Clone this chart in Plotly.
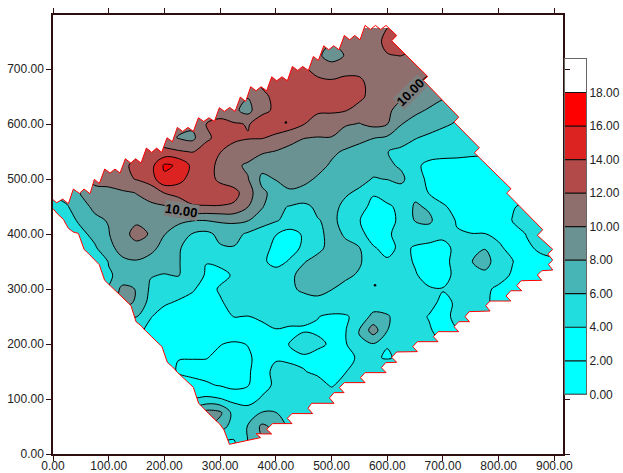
import plotly.graph_objects as go

x_nodes = [25 * i for i in range(38)]
level_edges = [0, 2, 4, 6, 8, 10, 12, 14, 16, 18, 20]
band_colors = ["#00FFFF", "#00FFFF", "#22DDDD", "#47B5B5", "#6B9292", "#8F6E6E", "#B34A4A", "#DD2222", "#FF0000", "rgba(255,255,255,0)"]

# grid: (y, index of first column, values); blank nodes lie outside the survey
z_rows = [
 (775,22,[10.5,11,12,13]),
 (750,21,[10.5,10.5,11.3,12.5,13,12.5]),
 (725,18,[11,10.3,9.3,10.1,10.8,11.2,11.9,12.05,11,10.5]),
 (700,17,[12.5,12.2,11.5,10.8,11.3,11.5,11,10.9,10.9,10.6,10.3]),
 (675,15,[12.2,12.8,13,13,12.4,12.4,12.7,12.4,11.3,11,10.8,10.2,9.5,9]),
 (650,14,[10.1,11.7,12.3,13,13,13,13,13,12.5,11.2,10.8,10.2,9.5,8.8,8.2,7.8]),
 (625,12,[10.8,10.4,9.3,11.7,12.2,13,13,12.2,12.2,12.1,11.2,10.8,10.3,9.4,8.4,7.8,7.2,6.5,6]),
 (600,10,[10.5,12,12.8,12.2,11.9,12.6,13,13,12.05,11.4,11.2,10.2,9.9,10.5,10.05,8.05,7.3,6.9,6.3,5.8,5.3]),
 (575,8,[10.8,9.9,9.5,11.7,12.5,12.3,12.1,12.1,11.6,10.7,10.05,9.9,9.9,8.9,8.3,8.05,7.7,7.2,6.1,5.6,5.2,4.9,4.5,4.3]),
 (550,6,[11.5,12.5,12.5,12.2,11.9,12.7,12.05,11.4,11,10.3,9.9,9.4,9.1,8.9,8.3,7.8,7.6,7,6.05,5.4,5.1,4.9,4.7,4.6,4.4,4.2,4.1]),
 (525,4,[10.5,11.5,12.6,13.2,16.3,15.8,13.5,12.8,11.5,10.4,9.7,8.6,8.9,9.2,9,8.5,7.8,7.2,7,6.6,6.4,5.7,4.4,3.5,3.3,3.3,3.3,3.5,3.5]),
 (500,3,[10.6,10.8,11.5,12.1,13,15.6,14.6,13.3,12.8,11.6,11,10.1,7.6,8.05,8.5,8.4,7.8,7.1,6.6,6.5,5.9,6.05,6.5,4.6,3.7,3.2,3.2,3.2,3.2,3.3,3.5]),
 (475,1,[7,8.1,9.3,9.4,9.7,10.05,10.6,12.05,12.9,13,13,13,12.6,11,8.3,7.5,7.8,7.5,7,6.6,6.2,5.7,4.2,4.6,5,5.4,3.9,3.3,3.3,3.3,3.3,3.3,3.3,3.3]),
 (450,0,[4.5,5.8,7.5,8.3,9,9.3,9.5,9.7,9.8,10.1,11.8,11.9,11.9,11.7,10.05,8.2,6.4,5.9,5.5,6.4,6.5,5.6,4.8,3.4,3.8,4.3,6.3,5.7,4.2,3.5,3.5,3.5,3.5,3.9,4.3]),
 (425,0,[4.1,5,6.5,7.7,8.1,8.7,9.8,9.8,8.7,8.3,8.1,8.05,8.3,8.4,8.1,6.9,6.2,5.3,5,5.9,6.4,5.4,4.05,3.2,3.2,4.5,6.1,6.4,4.7,3.9,3.3,3.3,3.4,4.05,4.5,4.5]),
 (400,1,[4.5,5.4,6.7,7.9,9.6,10.4,9.9,8.05,7.3,5.9,5.5,6.5,6.6,5.7,5,4.05,3.3,4.2,5.5,6.6,5.8,4.7,3,3.7,4.7,5,4.9,4.4,4.1,4.05,4.05,3.6,3.4,4.05,4.3]),
 (375,2,[4.1,5.7,7.7,8.4,9.6,8.6,7.3,6.2,5.2,5.2,5.8,5.9,5.3,4.6,3.6,3.3,4.3,5.6,6.5,6.4,6.05,4.2,3.3,4.5,3.8,3.5,3.5,4.4,4.9,5.9,4.3,3.4,3.8,4.2,4.5]),
 (350,3,[4.5,6.1,7.8,7.8,7.3,6.8,6.1,5.3,4.05,4.4,4.7,5,4.4,3.3,4.2,5.9,6.5,7,6.7,6.2,5,4.3,4.8,3.8,3.2,3.2,4.9,5.9,6.8,5,4.05,3.5,3.7,3.8]),
 (325,3,[4.5,5.8,6.5,6.9,6.1,5.9,6.1,5.1,3.8,3.5,4.2,4.8,5,5,5.7,6.5,7.2,7.2,6.3,5.8,5,4.7,4.5,4.2,3.2,3.2,4.6,5.5,5.5,4.6,3.8,3.5,3.8]),
 (300,3,[5,6.05,8.6,7.9,5.7,5,4.7,4.2,3.3,4.2,4.7,5,5,5.3,5.8,6.2,6.5,6.05,5.5,5,4.8,4.6,4.5,4.4,4.2,4.1,4.8,4.9,4.3,3.7,3.5,3.5]),
 (275,4,[6.5,8.5,7.8,5.2,4.2,3.8,3.4,3.1,3.8,4.6,5,5,5.2,5.5,5.5,5.5,5.3,5.2,5,4.8,4.5,4.4,4.5,4.5,3.6,4.2,4.5,4.3,3.5]),
 (250,5,[6.05,6.05,4.1,3.3,3.1,3,3,3.1,4.05,3.95,4.3,4.8,4.7,4.2,4.05,3.7,3.8,4.6,6.6,6.3,4.7,4.6,3.9,3.3,4.6,4.5]),
 (225,6,[4.5,3.5,3,3,3,3,2.9,3,3.2,3.5,3.9,3.7,3.9,3.8,3.2,3.9,6.05,9,6.05,4.6,4.3,4.2,3.3,3.9]),
 (200,7,[3.2,3,3,2.9,2.5,2.05,1.8,2.05,2.7,3.4,4.05,4.6,4.3,3.8,3.8,5.9,5.9,4.1,4.4,4.3,4.3]),
 (175,8,[3,2.05,2.05,2.05,1.7,1.5,1.8,2.5,3.8,3.8,3.8,3.5,3.2,3.4,4.3,4.3,3.8,4.4,4.3]),
 (150,9,[1.8,1.6,1.5,1.4,1.4,1.7,3.3,4.5,4.3,4.05,3.8,3.5,3.95,4.6,4.6,6]),
 (125,10,[2.5,2.2,1.9,1.4,1.9,3.4,4.3,4.5,4.4,4.4,3.9,4.4,4.5,4.5]),
 (100,10,[4.05,4.4,4.1,3.5,3.3,4.2,4.6,4.7,4.7,4.7,4.7,4.7]),
 (75,10,[7,8.8,8.4,5.2,4.8,6.1,6.05,4.8,4.7,4.7]),
 (50,11,[8,7,5,6.1,8.4,7.5,5.5,4.8]),
 (25,12,[4.05,3.95,6.05,8.05,8.05,6.05]),
 (0,12,[3.5,3.8,6.05,8.05,8.05,6.05]),
]

# survey outline (blanking polygon) in map units
edge_x = [0,6.6,17.4,27.6,36.5,47.3,55.7,66.5,74.2,83.2,92.8,102.4,111.3,120.3,129.9,139.5,148.4,158,167.6,177.2,186.1,195.1,204.7,214.3,223.2,232.8,242.4,252,261,270.5,280,289.7,298.6,307.6,317.2,326.8,336.3,345.9,354.9,364.5,373.4,383.6,392.6,401.6,411.1,420.7,429.7,439.3,448.2,458.4,467.4,476.4,486,494.9,503.9,513.5,523,532.6,541.6,551.2,560.1,569.7,578.7,588.3,597.8,617,608,672.6,664.9,728.3,720,765.4,756.4,822.2,814.4,879.1,869.5,897.1,888.1,897.1,889.3,897.1,877.3,869.6,877.3,840.2,832.5,841.4,821.7,813.3,821.7,784.6,776.8,784.6,746.9,739.7,747.5,728.3,720,728.3,691.2,682.9,691.2,654.1,645.8,654.1,617,608,617,597.3,589.5,597.9,560.2,551.8,560.2,523.1,514.1,522.5,504.5,496.2,504.5,464.3,457.7,466.1,429,420.6,429,394.3,383.5,392.5,377.6,364.5,372.6,316.5,316.5,306.9,298.6,298.6,289.6,280,280,271,261.4,261.4,251.9,242.9,242.9,232.7,223.2,223.2,214.8,205.2,205.2,195.6,187.2,186,177,168.1,166.9,158.5,149,149,140,130.4,130.4,121.4,111.8,111.8,102.3,92.7,92.7,83.1,74.8,74.8,65.2,55.6,55.6,45.5,36.5,27.6,27.6,18.6,18.6,7.8,0,0]
edge_y = [462.5,457,463.7,455.2,481.9,474,481.9,473.4,499.5,492.2,518.3,511,518.3,511,537,529.2,537,529.2,556.4,548.6,556.4,548.6,575.2,568,594,586.7,594,586.7,611.6,604.9,611.6,604.9,629.8,623.1,630.4,623.1,649.2,641.3,668,660.7,668,660.7,686.1,678.8,686.1,678.8,704.9,697.6,704.9,697.6,723.1,715.8,742.5,735.2,742.5,735.2,761.3,753.4,761.3,753.4,779.5,772.2,779.5,772.2,779.5,761.3,751.6,686.7,679.5,612.8,603.7,557,547.9,482.5,474.6,408,397.7,372.2,363.7,352.8,344.9,334.6,333.4,325.6,315.9,315.2,306.2,297,297,287.4,278.3,278.3,269.8,260.1,258.9,249.8,240.7,240.7,231.6,222.5,222.5,213.4,204.3,204.3,195.3,186.2,185.6,175.9,166.8,166.2,157.1,148,148,138.9,129.8,129.8,120.7,111.6,111.6,101.9,92.2,92.2,83.1,73.5,73.5,65,55.3,55.3,45,36.5,36.5,37,29.8,17.6,18.3,43.8,54.7,55.3,63.2,73.5,73.5,83.1,92.2,92.2,121.3,129.8,130.4,138.9,148,148.6,158.3,166.2,166.8,195.3,204.3,204.3,213.4,222.5,223.1,232.8,240.7,240.7,269.8,278.9,278.9,288,297,297.7,306.8,315.9,315.9,344.3,353.4,353.4,363.1,372.2,372.8,401.3,403.7,410.4,410.4,426.8,426.8,437,446.2,446.2,462.5]
outer_x = [-30, 950, 950, -30, -30]
outer_y = [-30, -30, 830, 830, -30]

spot_x = [418, 578]
spot_y = [603, 307]

label_text = "10.00"
label_x = [230, 641]
label_y = [443, 658]
label_angle = [9, -45]
label_back = ["#7E8080", "#7E8080"]

y_nodes = [r[0] for r in z_rows][::-1]
z = []
for y_val, first, vals in z_rows[::-1]:
    row = [None] * first + list(vals)
    row += [None] * (len(x_nodes) - len(row))
    z.append(row)

stops = []
n = len(band_colors)
for i, c in enumerate(band_colors):
    stops.append([i / n, c])
    stops.append([(i + 1) / n, c])

axis_color = "#2E0F0F"
font = dict(family="Liberation Sans, Arial, sans-serif", size=12, color="#222222")

fig = go.Figure()
fig.add_trace(go.Contour(
    x=x_nodes, y=y_nodes, z=z, connectgaps=True,
    zmin=0, zmax=20, autocontour=False,
    contours=dict(start=2, end=18, size=2, coloring="fill", showlines=True),
    line=dict(color="#000000", width=1, smoothing=1),
    colorscale=stops, showscale=False,
    hoverinfo="skip",
))
fig.add_trace(go.Scatter(
    x=outer_x + [None] + edge_x, y=outer_y + [None] + edge_y,
    mode="lines", fill="toself", fillcolor="#FFFFFF",
    line=dict(width=0), hoverinfo="skip", showlegend=False,
))
fig.add_trace(go.Scatter(
    x=edge_x, y=edge_y, mode="lines", line=dict(color="#FF0000", width=1),
    hoverinfo="skip", showlegend=False,
))
fig.add_trace(go.Scatter(
    x=spot_x, y=spot_y, mode="markers", marker=dict(color="#000000", size=2.5),
    hoverinfo="skip", showlegend=False,
))
for lx, ly, la, lb in zip(label_x, label_y, label_angle, label_back):
    fig.add_annotation(
        x=lx, y=ly, text="<b>" + label_text + "</b>", textangle=la, showarrow=False,
        font=dict(family="Liberation Sans, Arial, sans-serif", size=13, color="#000000"),
        bgcolor=lb, borderpad=0,
    )

# level key: one stacked bar per band
for lo, hi, col in zip(level_edges[:-1], level_edges[1:], band_colors):
    fig.add_trace(go.Bar(
        x=[0], y=[hi - lo], base=[lo], width=[1], marker=dict(color=col, line=dict(width=0)),
        xaxis="x2", yaxis="y2", hoverinfo="skip", showlegend=False,
    ))
key_x, key_y = [], []
for lev in level_edges[:-1]:
    key_x += [-0.5, 0.5, None]
    key_y += [lev, lev, None]
fig.add_trace(go.Scatter(
    x=key_x, y=key_y, mode="lines", line=dict(color="#111111", width=1.2),
    xaxis="x2", yaxis="y2", hoverinfo="skip", showlegend=False, cliponaxis=False,
))

plot_w = 570.0
plot_h = 473 - 14.5 - 19.3
axis = dict(
    showgrid=False, zeroline=False, showline=True, linecolor=axis_color, linewidth=1.5,
    mirror="ticks", ticks="outside", ticklen=5, tickcolor=axis_color, tickwidth=1,
    tickformat=".2f", dtick=100, tick0=0, tickfont=font,
)
fig.update_layout(
    width=623, height=473, autosize=False,
    margin=dict(l=53, r=0, t=14.5, b=19.3, pad=0, autoexpand=False),
    paper_bgcolor="#FFFFFF", plot_bgcolor="#FFFFFF", showlegend=False, barmode="overlay",
    xaxis=dict(axis, range=[0, 915.5], domain=[0, 510 / plot_w], ticklabelstandoff=-5),
    yaxis=dict(axis, range=[0, 798.5], domain=[0, 1]),
    xaxis2=dict(domain=[511.5 / plot_w, 533 / plot_w], range=[-0.5, 0.5], anchor="y2",
                showgrid=False, zeroline=False, showticklabels=False, ticks="",
                showline=True, linecolor="#666666", linewidth=1, mirror=True),
    yaxis2=dict(domain=[(453.7 - 394) / plot_h, (453.7 - 58.5) / plot_h], range=[0, 20], anchor="x2",
                side="right", showgrid=False, zeroline=False, ticks="",
                tickmode="array", tickvals=level_edges[:-1], tickformat=".2f", tickfont=font,
                showline=True, linecolor="#666666", linewidth=1, mirror=True),
)
fig.write_html("out.html", config=dict(displayModeBar=False),
               post_script="document.body.style.margin='0';document.body.style.overflow='hidden';")
